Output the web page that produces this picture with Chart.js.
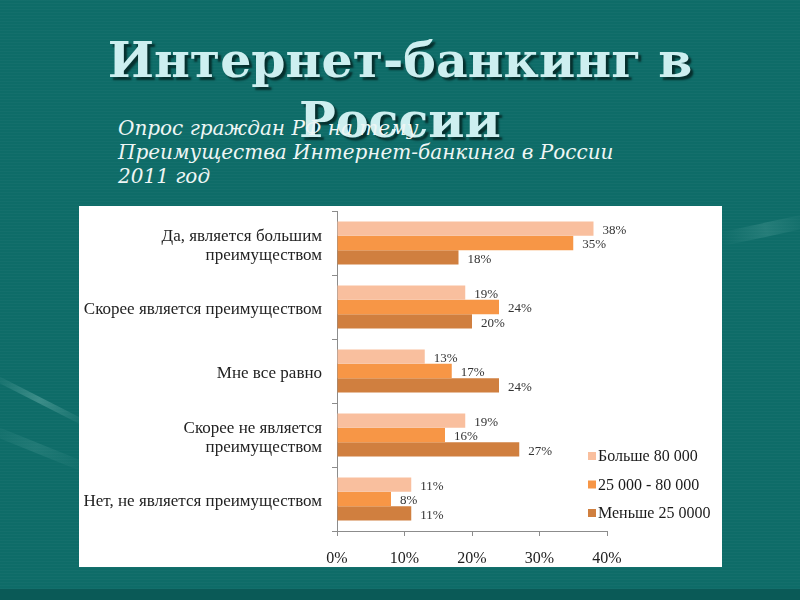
<!DOCTYPE html>
<html>
<head>
<meta charset="utf-8">
<script src="https://cdn.jsdelivr.net/npm/chart.js@4.4.1/dist/chart.umd.min.js"></script>
<style>
    html, body {
        margin: 0;
        padding: 0;
    }
    body {
        width: 800px;
        height: 600px;
        position: relative;
        overflow: hidden;
        background-color: #0e6c68;
        background-image: repeating-linear-gradient(180deg, rgba(255,255,255,0.025) 0px, rgba(255,255,255,0.025) 1px, rgba(0,0,0,0) 1px, rgba(0,0,0,0) 3px);
    }
    .streak {
        position: absolute;
        background: linear-gradient(90deg, rgba(255,255,255,0), rgba(190,235,230,0.25), rgba(255,255,255,0));
        transform-origin: left center;
    }
    .title {
        position: absolute;
        left: 0;
        top: 30px;
        width: 800px;
        text-align: center;
        font-family: "DejaVu Serif", serif;
        font-weight: bold;
        font-size: 49px;
        line-height: 60px;
        color: #cdeff0;
        text-shadow: 3px 3px 2px #062f2d;
    }
    .subtitle {
        position: absolute;
        left: 118px;
        top: 116px;
        font-family: "DejaVu Serif", serif;
        font-style: italic;
        font-size: 20px;
        line-height: 24px;
        color: #eef6f5;
    }
    .panel {
        position: absolute;
        left: 79px;
        top: 206px;
        width: 643px;
        height: 361px;
        background: #ffffff;
    }
    .bottom-band {
        position: absolute;
        left: 0;
        top: 589px;
        width: 800px;
        height: 11px;
        background: #0a5a57;
    }
</style>
</head>
<body>
<div class="streak" style="left:-10px; top:372px; width:110px; height:6px; transform: rotate(27deg);"></div>
<div class="streak" style="left:-20px; top:420px; width:120px; height:10px; transform: rotate(22deg); opacity:0.4;"></div>
<div class="streak" style="left:722px; top:232px; width:90px; height:14px; transform: rotate(-12deg); opacity:0.5;"></div>
<div class="bottom-band"></div>

<div class="title">Интернет-банкинг в<br>России</div>
<div class="subtitle">Опрос граждан РФ на тему<br>Преимущества Интернет-банкинга в России<br>2011 год</div>

<div class="panel">
    <canvas id="chart" width="643" height="361"></canvas>
</div>

<script>
// Данные опроса (%)
const categories = [
    ['Да, является большим', 'преимуществом'],
    'Скорее является преимуществом',
    'Мне все равно',
    ['Скорее не является', 'преимуществом'],
    'Нет, не является преимуществом'
];
const seriesNames = ['Больше 80 000', '25 000 - 80 000', 'Меньше 25 0000'];
const over80k = [38, 19, 13, 19, 11];
const from25to80k = [35, 24, 17, 16, 8];
const under25k = [18, 20, 24, 27, 11];
const xTicks = [0, 10, 20, 30, 40];

const colors = ['#f9bf9e', '#f79646', '#d07f3f'];
const serif = '"Liberation Serif", "Times New Roman", serif';

// подписи значений справа от столбцов
const valueLabels = {
    id: 'valueLabels',
    afterDatasetsDraw(chart) {
        const ctx = chart.ctx;
        ctx.save();
        ctx.font = '13px ' + serif;
        ctx.fillStyle = '#333333';
        ctx.textAlign = 'left';
        ctx.textBaseline = 'middle';
        chart.data.datasets.forEach((ds, i) => {
            const meta = chart.getDatasetMeta(i);
            meta.data.forEach((bar, j) => {
                ctx.fillText(ds.data[j] + '%', bar.x + 9, bar.y + 2);
            });
        });
        ctx.restore();
    }
};

// легенда внутри области графика, справа снизу
const innerLegend = {
    id: 'innerLegend',
    afterDraw(chart) {
        const ctx = chart.ctx;
        ctx.save();
        ctx.font = '16px ' + serif;
        ctx.textAlign = 'left';
        ctx.textBaseline = 'middle';
        chart.data.datasets.forEach((ds, i) => {
            const y = 250 + i * 28.5;
            ctx.fillStyle = ds.backgroundColor;
            ctx.fillRect(509, y - 4, 8, 8);
            ctx.fillStyle = '#1a1a1a';
            ctx.fillText(ds.label, 519, y + 1);
        });
        ctx.restore();
    }
};

new Chart(document.getElementById('chart'), {
    type: 'bar',
    data: {
        labels: categories,
        datasets: [
            { label: seriesNames[0], data: over80k, backgroundColor: colors[0] },
            { label: seriesNames[1], data: from25to80k, backgroundColor: colors[1] },
            { label: seriesNames[2], data: under25k, backgroundColor: colors[2] }
        ]
    },
    options: {
        indexAxis: 'y',
        responsive: false,
        animation: false,
        categoryPercentage: 0.67,
        barPercentage: 1.0,
        layout: {
            padding: { top: 5, right: 115, left: 0, bottom: 0 }
        },
        plugins: {
            legend: { display: false },
            tooltip: { enabled: false }
        },
        scales: {
            x: {
                min: xTicks[0],
                max: xTicks[xTicks.length - 1],
                afterBuildTicks(scale) {
                    scale.ticks = xTicks.map(v => ({ value: v }));
                },
                afterFit(scale) {
                    scale.height = 36;
                },
                grid: {
                    drawOnChartArea: false,
                    drawTicks: true,
                    tickLength: 5,
                    color: '#8c8c8c'
                },
                border: { color: '#8c8c8c' },
                ticks: {
                    padding: 13,
                    color: '#222222',
                    font: { size: 16, family: serif },
                    callback: v => v + '%'
                }
            },
            y: {
                afterFit(scale) {
                    scale.width = 258;
                    scale.paddingTop = 0;
                    scale.paddingBottom = 0;
                },
                grid: {
                    offset: true,
                    drawOnChartArea: false,
                    drawTicks: true,
                    tickLength: 5,
                    color: '#8c8c8c'
                },
                border: { color: '#8c8c8c' },
                ticks: {
                    padding: 10,
                    labelOffset: 3,
                    color: '#222222',
                    font: { size: 17, family: serif, lineHeight: 1.15 }
                }
            }
        }
    },
    plugins: [valueLabels, innerLegend]
});
</script>
</body>
</html>
